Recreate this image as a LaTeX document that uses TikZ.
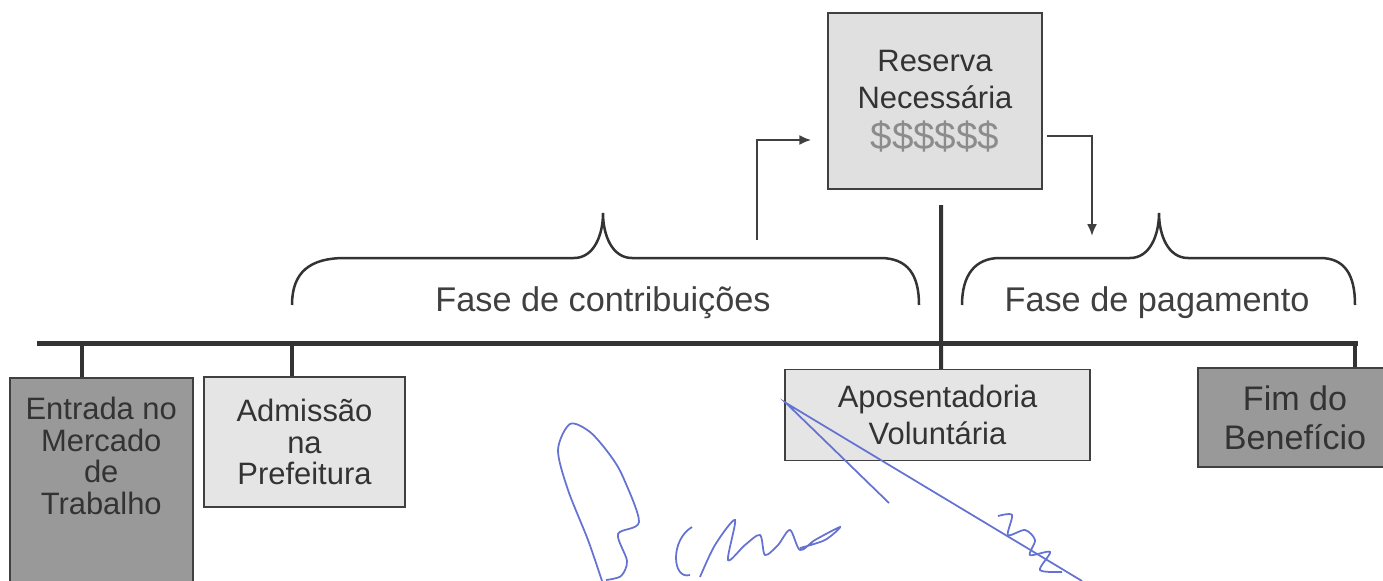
\documentclass[tikz,border=0pt]{standalone}
\usepackage{fontspec}
\setmainfont{Liberation Sans}
\usetikzlibrary{positioning,arrows.meta}
\definecolor{tinta}{RGB}{100,115,210}

\begin{document}
\begin{tikzpicture}[x=0.2mm, y=-0.2mm, >={Latex[length=2.4mm,width=2mm]},
    caixa/.style={draw=black!75, line width=0.3mm, rectangle, inner sep=0pt},
    clara/.style={caixa, fill=black!10},
    escura/.style={caixa, fill=black!40},
    texto/.style={font=\fontsize{17.6}{17.9}\selectfont, text=black!80, align=center, inner sep=0pt},
    fase/.style={font=\fontsize{19.5}{22}\selectfont, text=black!75},
    eixo/.style={line width=1mm, draw=black!80},
    marca/.style={line width=0.8mm, draw=black!80},
    fluxo/.style={->, line width=0.4mm, draw=black!75},
    chave/.style={line width=0.5mm, draw=black!80},
    assinatura/.style={draw=tinta, line width=0.35mm}]
    \useasboundingbox (0,0) rectangle (1383,581);

    % Caixas sob a linha do tempo
    \node[escura, minimum width=36.6mm, minimum height=44.6mm, anchor=north west] (entrada) at (9,377) {};
    \node[texto, below=4mm of entrada.north] (entradatxt) {Entrada no\\Mercado\\de\\Trabalho};
    \node[clara, texto, minimum width=40.2mm, minimum height=26mm] (admissao) at (304.5,442) {Admissão\\na\\Prefeitura};
    \node[clara, texto, minimum width=61mm, minimum height=18.2mm, font=\fontsize{17.6}{21}\selectfont] (aposent) at (937.5,415) {Aposentadoria\\Voluntária};
    \node[escura, texto, minimum width=38.8mm, minimum height=19.8mm, font=\fontsize{19.4}{22.2}\selectfont] (fim) at (1295,417.5) {Fim do\\Benefício};

    % Reserva no topo
    \node[clara, texto, fill=black!12, minimum width=42.8mm, minimum height=35.2mm, font=\fontsize{17.6}{21}\selectfont] (reserva) at (935,101) {Reserva\\Necessária\\[0.9mm]{\fontsize{22}{24}\selectfont\color{black!45}\$\$\$\$\$\$}};

    % Linha do tempo e marcas
    \coordinate (inicio) at (37,343);
    \coordinate (final) at (1358,343);
    \coordinate (topo) at (941,205);
    \draw[eixo] (inicio) -- (final);
    \draw[marca] ([xshift=-3.9mm]entrada.north) -- ([xshift=-3.9mm]entrada.north |- inicio);
    \draw[marca] ([xshift=-2.5mm]admissao.north) -- ([xshift=-2.5mm]admissao.north |- inicio);
    \draw[marca] ([xshift=12mm]fim.north) -- ([xshift=12mm]fim.north |- final);
    \draw[marca] ([xshift=0.7mm]aposent.north) -- (topo);

    % Setas da reserva
    \coordinate (saida) at (757,240);
    \coordinate (entrega) at (1092,236);
    \draw[fluxo] (saida) |- ([xshift=-3.2mm,yshift=-7.8mm]reserva.west);
    \draw[fluxo] ([xshift=0.8mm,yshift=-7mm]reserva.east) -| (entrega);

    % Chaves das fases
    \draw[chave] (292,305) .. controls (292,272) and (310,258) .. (345,258) -- (574,258)
        .. controls (594,258) and (603,235) .. (603,213)
        .. controls (603,235) and (612,258) .. (632,258) -- (880,258)
        .. controls (908,258) and (919,275) .. (919,305);
    \draw[chave] (962,305) .. controls (962,275) and (975,258) .. (1000,258) -- (1130,258)
        .. controls (1150,258) and (1159,235) .. (1159,213)
        .. controls (1159,235) and (1168,258) .. (1188,258) -- (1320,258)
        .. controls (1345,258) and (1355,275) .. (1355,305);
    \node[fase, anchor=base] (contrib) at (603,311) {Fase de contribuições};
    \node[fase, anchor=base] (pagto) at (1157,311) {Fase de pagamento};

    % Rubricas a caneta
    \draw[assinatura] (889,503) -- (786,403) -- (1082,581);
    \draw[assinatura] plot[smooth] coordinates {(602,581) (588,540) (568,490) (558,450) (570,424) (590,432) (610,455) (623,477) (639,522) (618,534) (627,561) (621,576) (606,580)};
    \draw[assinatura] (692,527) .. controls (670,540) and (672,580) .. (690,575);
    \draw[assinatura] plot[smooth] coordinates {(700,577) (715,545) (735,520) (728,560) (745,545) (760,535) (765,555) (778,545) (790,530) (800,550) (815,540) (840,527) (825,540) (800,548)};
    \draw[assinatura] plot[smooth] coordinates {(998,516) (1012,515) (1008,535) (1025,530) (1035,540) (1030,555) (1050,552) (1040,570) (1062,572)};
\end{tikzpicture}
\end{document}
